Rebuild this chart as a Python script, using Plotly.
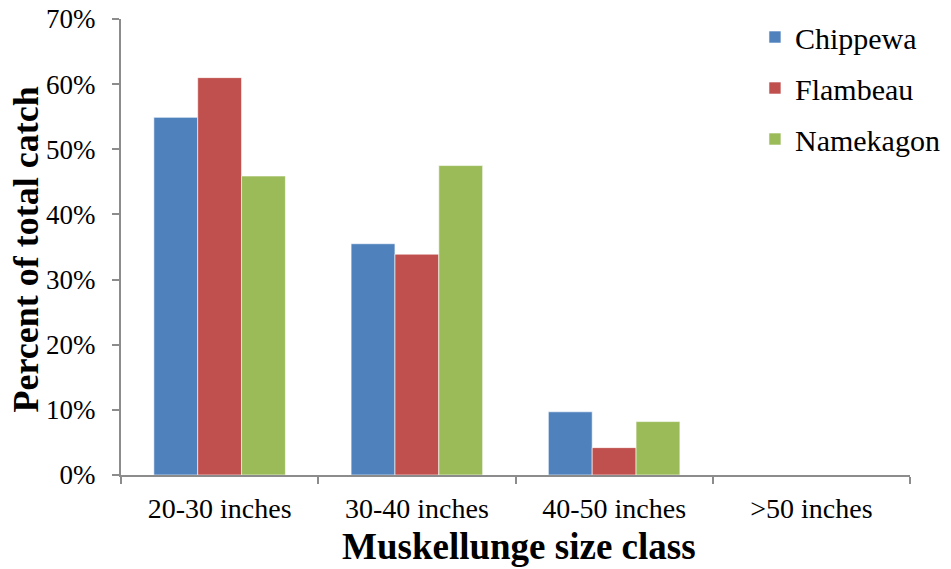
import plotly.graph_objects as go

categories = ["20-30 inches", "30-40 inches", "40-50 inches", ">50 inches"]
chippewa = [54.9, 35.5, 9.7, 0]
flambeau = [61.0, 33.9, 4.2, 0]
namekagon = [45.9, 47.5, 8.2, 0]
series_names = ["Chippewa", "Flambeau", "Namekagon"]
colors = ["#4F81BD", "#C0504D", "#9BBB59"]
x_title = "Muskellunge size class"
y_title = "Percent of total catch"

fig = go.Figure()
for name, vals, col in zip(series_names, [chippewa, flambeau, namekagon], colors):
    fig.add_trace(go.Bar(
        x=categories, y=vals, name=name, legendgroup=name,
        marker=dict(color=col, line=dict(color="white", width=0.6)),
    ))

font_family = "Liberation Serif"
fig.update_layout(
    width=951, height=569,
    margin=dict(l=121, r=41, t=19, b=94, autoexpand=False),
    plot_bgcolor="white", paper_bgcolor="white",
    barmode="group", bargap=0.333, bargroupgap=0,
    font=dict(family=font_family, color="black"),
    legend=dict(
        x=0.8035, y=1.0175, xanchor="left", yanchor="top",
        font=dict(size=30, family=font_family, color="black"),
        tracegroupgap=9, bgcolor="rgba(0,0,0,0)",
    ),
    showlegend=True,
    annotations=[
        dict(text="<b>" + x_title + "</b>", xref="paper", yref="paper", x=0.5, y=0,
             xanchor="center", yanchor="middle", xshift=3, yshift=-71.5, showarrow=False,
             font=dict(size=37, family=font_family, color="black")),
        dict(text="<b>" + y_title + "</b>", xref="paper", yref="paper", x=0, y=0.5,
             xanchor="center", yanchor="middle", xshift=-95.5, yshift=-3, showarrow=False,
             textangle=-90, font=dict(size=36, family=font_family, color="black")),
    ],
)
fig.update_xaxes(
    automargin=False,
    showline=True, linecolor="#8c8c8c", linewidth=2,
    ticks="outside", tickcolor="#8c8c8c", ticklen=7, tickwidth=2,
    tickson="boundaries", ticklabelstandoff=7,
    tickfont=dict(size=28, family=font_family),
)
fig.update_yaxes(
    automargin=False,
    range=[0, 70], dtick=10, ticksuffix="%",
    showline=True, linecolor="#8c8c8c", linewidth=2,
    ticks="outside", tickcolor="#8c8c8c", ticklen=7, tickwidth=2,
    showgrid=False, zeroline=False, ticklabelstandoff=11,
    tickfont=dict(size=27, family=font_family),
)

fig.write_html("out.html", config={"displayModeBar": False},
               post_script="document.body.style.margin='0px';")
